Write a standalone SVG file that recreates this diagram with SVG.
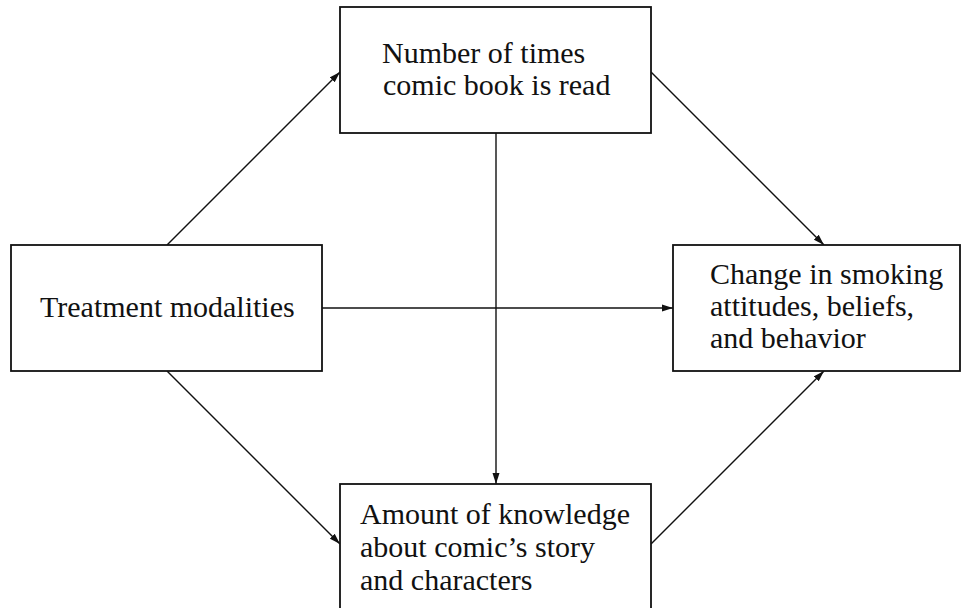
<svg xmlns="http://www.w3.org/2000/svg" width="971" height="608" viewBox="0 0 971 608">
<style>
.box{fill:#fff;stroke:#111;stroke-width:1.8}
.lbl{font-family:'Liberation Serif','Times New Roman',serif;font-size:30px;fill:#111}
.con{stroke:#111;stroke-width:1.4;fill:none;marker-end:url(#ah)}
</style>
<defs>
<marker id="ah" markerUnits="userSpaceOnUse" markerWidth="12" markerHeight="8" refX="11" refY="4" orient="auto">
<path d="M0,0.5 L11,4 L0,7.5 Z" fill="#111"/>
</marker>
</defs>
<rect width="971" height="608" fill="#fff"/>
<g id="connectors">
<line class="con" x1="167" y1="245" x2="340" y2="72"/>
<line class="con" x1="651" y1="72" x2="824" y2="245"/>
<line class="con" x1="322" y1="308" x2="673" y2="308"/>
<line class="con" x1="496" y1="133" x2="496" y2="484"/>
<line class="con" x1="167" y1="371" x2="340" y2="544"/>
<line class="con" x1="651" y1="544" x2="824" y2="371"/>
</g>
<g id="node-reads">
<rect class="box" x="340" y="7" width="311" height="126"/>
<text class="lbl" x="382" y="63">Number of times</text>
<text class="lbl" x="383" y="95">comic book is read</text>
</g>
<g id="node-treatment">
<rect class="box" x="11" y="245" width="311" height="126"/>
<text class="lbl" x="40" y="317">Treatment modalities</text>
</g>
<g id="node-change">
<rect class="box" x="673" y="245" width="287" height="126"/>
<text class="lbl" x="710" y="284">Change in smoking</text>
<text class="lbl" x="710" y="316">attitudes, beliefs,</text>
<text class="lbl" x="710" y="348">and behavior</text>
</g>
<g id="node-knowledge">
<rect class="box" x="340" y="484" width="311" height="130"/>
<text class="lbl" x="360" y="524">Amount of knowledge</text>
<text class="lbl" x="360" y="557">about comic’s story</text>
<text class="lbl" x="360" y="590">and characters</text>
</g>
</svg>
